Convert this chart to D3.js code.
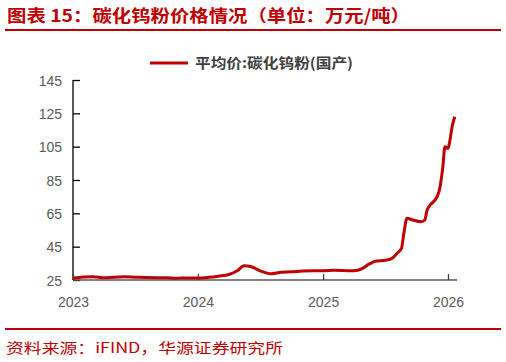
<!DOCTYPE html>
<html>
<head>
<meta charset="utf-8">
<script src="https://cdn.jsdelivr.net/npm/d3@7"></script>
<style>
  html, body { margin: 0; padding: 0; background: #fff; }
  svg { display: block; }
  .tick text { font-family: "Liberation Sans", Arial, sans-serif; font-size: 14px; fill: #595959; }
</style>
</head>
<body>
<div id="container"></div>
<script>
//------------------------1. DATA------------------------//
const dates = [
  "2023-01-01","2023-02-01","2023-03-01","2023-04-01","2023-05-01","2023-06-01",
  "2023-07-01","2023-08-01","2023-09-01","2023-10-01","2023-11-01","2023-12-01",
  "2024-01-01","2024-02-01","2024-03-01","2024-04-01","2024-04-25","2024-05-15",
  "2024-06-05","2024-07-01","2024-08-01","2024-09-01","2024-10-01","2024-11-01",
  "2024-12-01","2025-01-01","2025-02-01","2025-03-01","2025-04-01","2025-04-25",
  "2025-05-15","2025-06-05","2025-07-01","2025-07-20","2025-08-05","2025-08-18",
  "2025-08-25","2025-09-03","2025-09-20","2025-10-15","2025-10-25","2025-11-01",
  "2025-11-10","2025-11-30","2025-12-08","2025-12-17","2025-12-23","2026-01-01",
  "2026-01-06","2026-01-13","2026-01-21"
];
const prices = [
  26.0, 26.8, 26.9, 26.3, 26.7, 26.9,
  26.7, 26.5, 26.4, 26.3, 26.1, 26.2,
  26.2, 26.6, 27.3, 28.3, 30.5, 33.5,
  33.0, 30.5, 28.7, 29.7, 29.9, 30.4,
  30.6, 30.6, 30.8, 30.7, 30.5, 31.8,
  34.5, 36.4, 36.8, 37.8, 41.0, 44.0,
  53.0, 62.0, 61.0, 60.0, 61.0, 67.0,
  70.0, 75.0, 80.0, 93.0, 105.0, 104.0,
  108.0, 117.0, 123.0
];
const yTicks = [25, 45, 65, 85, 105, 125, 145];
const xTickYears = ["2023", "2024", "2025", "2026"];
const seriesName = "平均价:碳化钨粉(国产)";
const titleText = "图表 15：碳化钨粉价格情况（单位：万元/吨）";
const sourceText = "资料来源：iFIND，华源证券研究所";

//------------------------2. SVG------------------------//
const width = 506, height = 362;
const red = "#c00000";
const parse = d3.timeParse("%Y-%m-%d");
const data = dates.map((d, i) => ({ date: parse(d), value: prices[i] }));

const svg = d3.select("#container").append("svg")
    .attr("width", width)
    .attr("height", height);

// title + rules
svg.append("text")
    .attr("x", 7).attr("y", 22)
    .attr("textLength", 403).attr("lengthAdjust", "spacingAndGlyphs")
    .style("font-family", "'Noto Sans CJK SC', sans-serif")
    .style("font-size", "17px").style("font-weight", "bold")
    .style("fill", red)
    .text(titleText);
svg.append("line").attr("x1", 5).attr("x2", 501).attr("y1", 30).attr("y2", 30)
    .attr("stroke", red).attr("stroke-width", 2);
svg.append("line").attr("x1", 5).attr("x2", 501).attr("y1", 329).attr("y2", 329)
    .attr("stroke", red).attr("stroke-width", 2);
svg.append("text")
    .attr("x", 6).attr("y", 353)
    .attr("textLength", 277).attr("lengthAdjust", "spacingAndGlyphs")
    .style("font-family", "'Noto Sans CJK SC', sans-serif")
    .style("font-size", "14px")
    .style("fill", red)
    .text(sourceText);

//------------------------3. SCALES------------------------//
const plotLeft = 73, plotRight = 457, plotTop = 80, plotBottom = 280;
const x0 = parse("2023-01-01"), x1 = parse("2026-01-01");
const xScale = d3.scaleTime().domain([x0, x1]).range([plotLeft, 448]);
const yScale = d3.scaleLinear().domain([25, 145]).range([plotBottom, plotTop]);

// y axis (ticks inward)
const yAxis = d3.axisRight(yScale).tickValues(yTicks).tickSize(7).tickFormat(d3.format("d"));
const gy = svg.append("g").attr("transform", "translate(" + plotLeft + ",0)").call(yAxis);
gy.select(".domain").attr("stroke", "#000").attr("stroke-width", 1.3).attr("d", "M0," + plotTop + "V" + plotBottom);
gy.selectAll(".tick line").attr("stroke", "#000").attr("stroke-width", 1.3);
gy.selectAll(".tick text").attr("x", -11).attr("dy", "0.36em").style("text-anchor", "end");

// x axis (ticks inward)
const xAxis = d3.axisTop(xScale)
    .tickValues(xTickYears.map(y => parse(y + "-01-01")))
    .tickSize(6)
    .tickFormat(d3.timeFormat("%Y"));
const gx = svg.append("g").attr("transform", "translate(0," + plotBottom + ")").call(xAxis);
gx.select(".domain").attr("stroke", "#595959").attr("stroke-width", 1.3).attr("d", "M" + plotLeft + ",0H" + plotRight);
gx.selectAll(".tick line").attr("stroke", "#404040").attr("stroke-width", 1.3);
gx.selectAll(".tick text").attr("y", 22).attr("dy", "0.36em").style("text-anchor", "middle");

//------------------------4. LINE------------------------//
const line = d3.line()
    .x(d => xScale(d.date))
    .y(d => yScale(d.value))
    .curve(d3.curveMonotoneX);

svg.append("path")
    .datum(data)
    .attr("fill", "none")
    .attr("stroke", red)
    .attr("stroke-width", 3)
    .attr("stroke-linejoin", "round")
    .attr("d", line);

//------------------------5. LEGEND------------------------//
svg.append("line").attr("x1", 150).attr("x2", 188).attr("y1", 63).attr("y2", 63)
    .attr("stroke", red).attr("stroke-width", 3);
svg.append("text")
    .attr("x", 195).attr("y", 68)
    .attr("textLength", 158).attr("lengthAdjust", "spacingAndGlyphs")
    .style("font-family", "'Noto Sans CJK SC', sans-serif")
    .style("font-size", "14px").style("font-weight", "bold")
    .style("fill", "#404040")
    .text(seriesName);
</script>
</body>
</html>
